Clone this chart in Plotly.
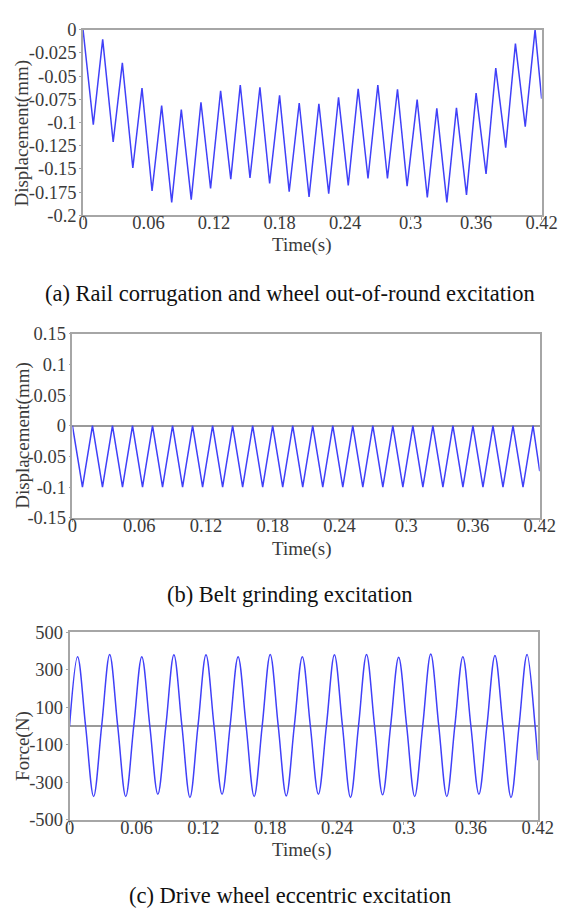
import plotly.graph_objects as go

# ---------------- data ----------------
# (a) Rail corrugation and wheel out-of-round excitation: extrema of the displacement trace
t_a = [0, 0.0094, 0.018, 0.0276, 0.036, 0.0456, 0.054, 0.0632, 0.072, 0.0812, 0.090,
       0.0991, 0.108, 0.1168, 0.126, 0.1353, 0.144, 0.1529, 0.162, 0.1709, 0.180,
       0.1888, 0.198, 0.207, 0.216, 0.225, 0.234, 0.2429, 0.252, 0.261, 0.270,
       0.2788, 0.288, 0.2968, 0.306, 0.3153, 0.324, 0.3332, 0.342, 0.3512, 0.360,
       0.3691, 0.378, 0.3871, 0.396, 0.405, 0.414, 0.42]
d_a = [0, -0.1024, -0.0105, -0.121, -0.0358, -0.149, -0.063, -0.1737, -0.0818, -0.186, -0.086,
       -0.183, -0.0782, -0.171, -0.066, -0.161, -0.0597, -0.1597, -0.0621, -0.1656, -0.0709,
       -0.1744, -0.079, -0.18, -0.080, -0.1765, -0.073, -0.1677, -0.0639, -0.1603, -0.0597,
       -0.1603, -0.0642, -0.1684, -0.0754, -0.1807, -0.0849, -0.186, -0.0842, -0.1779, -0.0684,
       -0.1554, -0.0414, -0.127, -0.0151, -0.1046, 0.0, -0.0744]

# (b) Belt grinding excitation
t_b = [0, 0.009, 0.018, 0.027, 0.036, 0.045, 0.054, 0.063, 0.072, 0.081, 0.090,
       0.099, 0.108, 0.117, 0.126, 0.135, 0.144, 0.153, 0.162, 0.171, 0.180,
       0.189, 0.198, 0.207, 0.216, 0.225, 0.234, 0.243, 0.252, 0.261, 0.270,
       0.279, 0.288, 0.297, 0.306, 0.315, 0.324, 0.333, 0.342, 0.351, 0.360,
       0.369, 0.378, 0.387, 0.396, 0.405, 0.414, 0.42]
d_b = [0, -0.1, 0, -0.1, 0, -0.1, 0, -0.1, 0, -0.1, 0,
       -0.1, 0, -0.1, 0, -0.1, 0, -0.1, 0, -0.1, 0,
       -0.1, 0, -0.1, 0, -0.1, 0, -0.1, 0, -0.1, 0,
       -0.1, 0, -0.1, 0, -0.1, 0, -0.1, 0, -0.1, 0,
       -0.1, 0, -0.1, 0, -0.1, 0, -0.0742]

# (c) Drive wheel eccentric excitation: zero crossings and extrema of the force
t_c = [0, 0.0072, 0.0144, 0.0216, 0.0288, 0.036, 0.0432, 0.0504, 0.0576, 0.0648,
       0.072, 0.0792, 0.0864, 0.0936, 0.1008, 0.108, 0.1152, 0.1224, 0.1296, 0.1368,
       0.144, 0.1512, 0.1584, 0.1656, 0.1728, 0.18, 0.1872, 0.1944, 0.2016, 0.2088,
       0.216, 0.2232, 0.2304, 0.2376, 0.2448, 0.252, 0.2592, 0.2664, 0.2736, 0.2808,
       0.288, 0.2952, 0.3024, 0.3096, 0.3168, 0.324, 0.3312, 0.3384, 0.3456, 0.3528,
       0.36, 0.3672, 0.3744, 0.3816, 0.3888, 0.396, 0.4032, 0.4104, 0.4176, 0.42]
f_c = [0, 369, 0, -375, 0, 381, 0, -375, 0, 369,
       0, -363, 0, 379, 0, -380, 0, 379, 0, -363,
       0, 369, 0, -375, 0, 381, 0, -372, 0, 369,
       0, -363, 0, 379, 0, -380, 0, 381, 0, -366,
       0, 366, 0, -375, 0, 383, 0, -375, 0, 369,
       0, -363, 0, 376, 0, -380, 0, 381, 0, -182]

# tick labels
x_ticks = [0, 0.06, 0.12, 0.18, 0.24, 0.3, 0.36, 0.42]
x_labels = ["0", "0.06", "0.12", "0.18", "0.24", "0.3", "0.36", "0.42"]
ya_ticks = [0, -0.025, -0.05, -0.075, -0.1, -0.125, -0.15, -0.175, -0.2]
ya_labels = ["0", "-0.025", "-0.05", "-0.075", "-0.1", "-0.125", "-0.15", "-0.175", "-0.2"]
yb_ticks = [0.15, 0.1, 0.05, 0, -0.05, -0.1, -0.15]
yb_labels = ["0.15", "0.1", "0.05", "0", "-0.05", "-0.1", "-0.15"]
yc_ticks = [500, 300, 100, -100, -300, -500]
yc_labels = ["500", "300", "100", "-100", "-300", "-500"]

captions = ["(a) Rail corrugation and wheel out-of-round excitation",
            "(b) Belt grinding excitation",
            "(c) Drive wheel eccentric excitation"]
y_titles = ["Displacement(mm)", "Displacement(mm)", "Force(N)"]
x_title = "Time(s)"

# ---------------- layout helpers ----------------
W, H = 574, 916
FONT = "Liberation Serif"
TXT = "#3a3a3a"
FRAME = "#a6a6a6"
LINE = "#4040f8"


def px(x):
    return x / W


def py(y):
    return 1 - y / H


# plot rectangles in pixels: left, right, top, bottom
rects = [(81, 557, 20, 210), (70, 555, 331, 519), (67, 553, 636, 828)]
xtitle_y = [240, 551, 859]
ytitle_y = [126, 435, 752]
caption_y = [290, 598, 905]

fig = go.Figure()
series = [(t_a, d_a), (t_b, d_b), (t_c, f_c)]
for i, (tx, ty) in enumerate(series):
    sfx = "" if i == 0 else str(i + 1)
    fig.add_trace(go.Scatter(
        x=tx, y=ty, mode="lines",
        line=dict(color=LINE, width=1.5, shape="spline" if i == 2 else "linear"),
        xaxis="x" + sfx, yaxis="y" + sfx, showlegend=False, hoverinfo="skip"))

yranges = [[-0.2, 0], [-0.15, 0.15], [-500, 500]]
yticks = [(ya_ticks, ya_labels), (yb_ticks, yb_labels), (yc_ticks, yc_labels)]

layout = dict(width=W, height=H, margin=dict(l=0, r=0, t=0, b=0),
              paper_bgcolor="white", plot_bgcolor="white", showlegend=False,
              font=dict(family=FONT, color=TXT, size=18))
annotations = []
for i in range(3):
    l, r, t, b = rects[i]
    sfx = "" if i == 0 else str(i + 1)
    layout["xaxis" + sfx] = dict(
        domain=[px(l), px(r)], range=[0, 0.42], anchor="y" + sfx,
        tickvals=x_ticks, ticktext=x_labels, showgrid=False, zeroline=False,
        showline=True, mirror=True, linecolor=FRAME, linewidth=1.5,
        ticks="outside", ticklen=3, tickcolor=FRAME, tickwidth=1,
        ticklabelstandoff=-13,
        tickfont=dict(family=FONT, size=18.5, color=TXT), fixedrange=True)
    layout["yaxis" + sfx] = dict(
        domain=[py(b), py(t)], range=yranges[i], anchor="x" + sfx,
        tickvals=yticks[i][0], ticktext=yticks[i][1], showgrid=False,
        zeroline=(i != 0), zerolinecolor="#9a9a9a", zerolinewidth=1.5,
        showline=True, mirror=True, linecolor=FRAME, linewidth=1.5,
        ticks="outside", ticklen=2, tickcolor=FRAME, tickwidth=1,
        ticklabelstandoff=-1,
        tickfont=dict(family=FONT, size=18.5, color=TXT), fixedrange=True)
    annotations.append(dict(text=x_title, x=px(308), y=py(xtitle_y[i]), xref="paper", yref="paper",
                            showarrow=False, xanchor="center", yanchor="middle",
                            font=dict(family=FONT, size=19, color=TXT)))
    annotations.append(dict(text=y_titles[i], x=px(18), y=py(ytitle_y[i]), xref="paper", yref="paper",
                            showarrow=False, xanchor="center", yanchor="middle", textangle=-90,
                            font=dict(family=FONT, size=19, color=TXT)))
    annotations.append(dict(text=captions[i], x=px(296), y=py(caption_y[i]), xref="paper", yref="paper",
                            showarrow=False, xanchor="center", yanchor="middle",
                            font=dict(family=FONT, size=22.5, color="#111111")))
layout["annotations"] = annotations
fig.update_layout(**layout)
fig.write_html("out.html")
